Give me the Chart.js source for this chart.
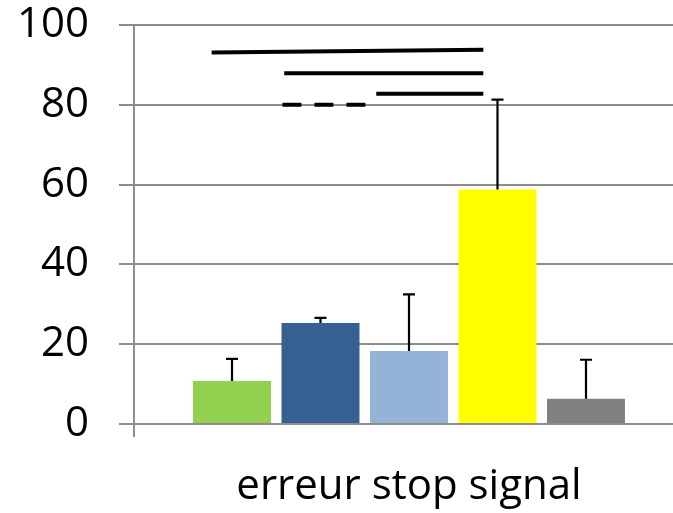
<!DOCTYPE html>
<html>
<head>
<meta charset="utf-8">
<script src="https://cdn.jsdelivr.net/npm/chart.js@4.4.1/dist/chart.umd.min.js"></script>
<style>
  html, body { margin: 0; padding: 0; background: #fff; overflow: hidden; }
  #wrap { width: 686px; height: 513px; }
</style>
</head>
<body>
<div id="wrap"><canvas id="chart" width="686" height="513"></canvas></div>
<script>
const categories = ["erreur stop signal"];
const groups = ["groupe 1", "groupe 2", "groupe 3", "groupe 4", "groupe 5"];
const means = [10.8, 25.3, 18.3, 58.8, 6.3];
const errors = [5.5, 1.3, 14.2, 22.5, 9.8];
const barColors = ["#92D050", "#366092", "#95B3D7", "#FFFF00", "#808080"];
const yTicks = [0, 20, 40, 60, 80, 100];

// significance lines, positions in bar slots (0 = first bar centre)
const sigFrom = [-0.23, 0.59, 1.63, 0.57];
const sigTo = [2.84, 2.84, 2.84, 1.51];
const sigLeft = [93.1, 87.9, 82.8, 80];
const sigRight = [93.8, 87.9, 82.8, 80];
const sigDashed = [false, false, false, true];

const gridGray = "#8c8c8c";

const errorBars = {
  id: "errorBars",
  afterDatasetsDraw(chart) {
    const ctx = chart.ctx;
    const y = chart.scales.y;
    ctx.save();
    ctx.strokeStyle = "#000";
    ctx.lineWidth = 2.2;
    means.forEach((m, i) => {
      const bar = chart.getDatasetMeta(i).data[0];
      const top = y.getPixelForValue(m + errors[i]);
      ctx.beginPath();
      ctx.moveTo(bar.x, bar.y);
      ctx.lineTo(bar.x, top);
      ctx.moveTo(bar.x - 6, top);
      ctx.lineTo(bar.x + 6, top);
      ctx.stroke();
    });
    ctx.restore();
  }
};

const sigLines = {
  id: "sigLines",
  afterDatasetsDraw(chart) {
    const ctx = chart.ctx;
    const y = chart.scales.y;
    const x0 = chart.getDatasetMeta(0).data[0].x;
    const step = chart.getDatasetMeta(1).data[0].x - x0;
    ctx.save();
    ctx.strokeStyle = "#000";
    ctx.lineWidth = 4;
    sigFrom.forEach((f, i) => {
      ctx.setLineDash(sigDashed[i] ? [19, 13] : []);
      ctx.beginPath();
      ctx.moveTo(x0 + step * f, y.getPixelForValue(sigLeft[i]));
      ctx.lineTo(x0 + step * sigTo[i], y.getPixelForValue(sigRight[i]));
      ctx.stroke();
    });
    ctx.restore();
  }
};

new Chart(document.getElementById("chart"), {
  type: "bar",
  data: {
    labels: categories,
    datasets: groups.map((g, i) => ({
      label: g,
      data: [means[i]],
      backgroundColor: barColors[i],
      categoryPercentage: 0.8045,
      barPercentage: 0.881
    }))
  },
  options: {
    responsive: false,
    animation: false,
    layout: { padding: { top: 25, right: 2, left: 0, bottom: 0 } },
    plugins: {
      legend: { display: false },
      tooltip: { enabled: false }
    },
    scales: {
      x: {
        afterFit: (s) => { s.height = 89; s.paddingLeft = 0; s.paddingRight = 0; },
        grid: {
          display: true,
          drawOnChartArea: false,
          tickLength: 13,
          color: gridGray,
          lineWidth: 2
        },
        border: { color: gridGray, width: 2 },
        ticks: {
          color: "#000",
          padding: 25,
          font: { family: "'Open Sans'", size: 42 }
        }
      },
      y: {
        min: 0,
        max: 100,
        afterFit: (s) => { s.width = 134; s.paddingTop = 0; s.paddingBottom = 0; },
        afterBuildTicks: (s) => { s.ticks = yTicks.map(v => ({ value: v })); },
        grid: {
          color: gridGray,
          lineWidth: 2,
          tickLength: 15
        },
        border: { color: gridGray, width: 2 },
        ticks: {
          color: "#000",
          padding: 30,
          font: { family: "'Open Sans'", size: 42 }
        }
      }
    }
  },
  plugins: [errorBars, sigLines]
});
</script>
</body>
</html>
